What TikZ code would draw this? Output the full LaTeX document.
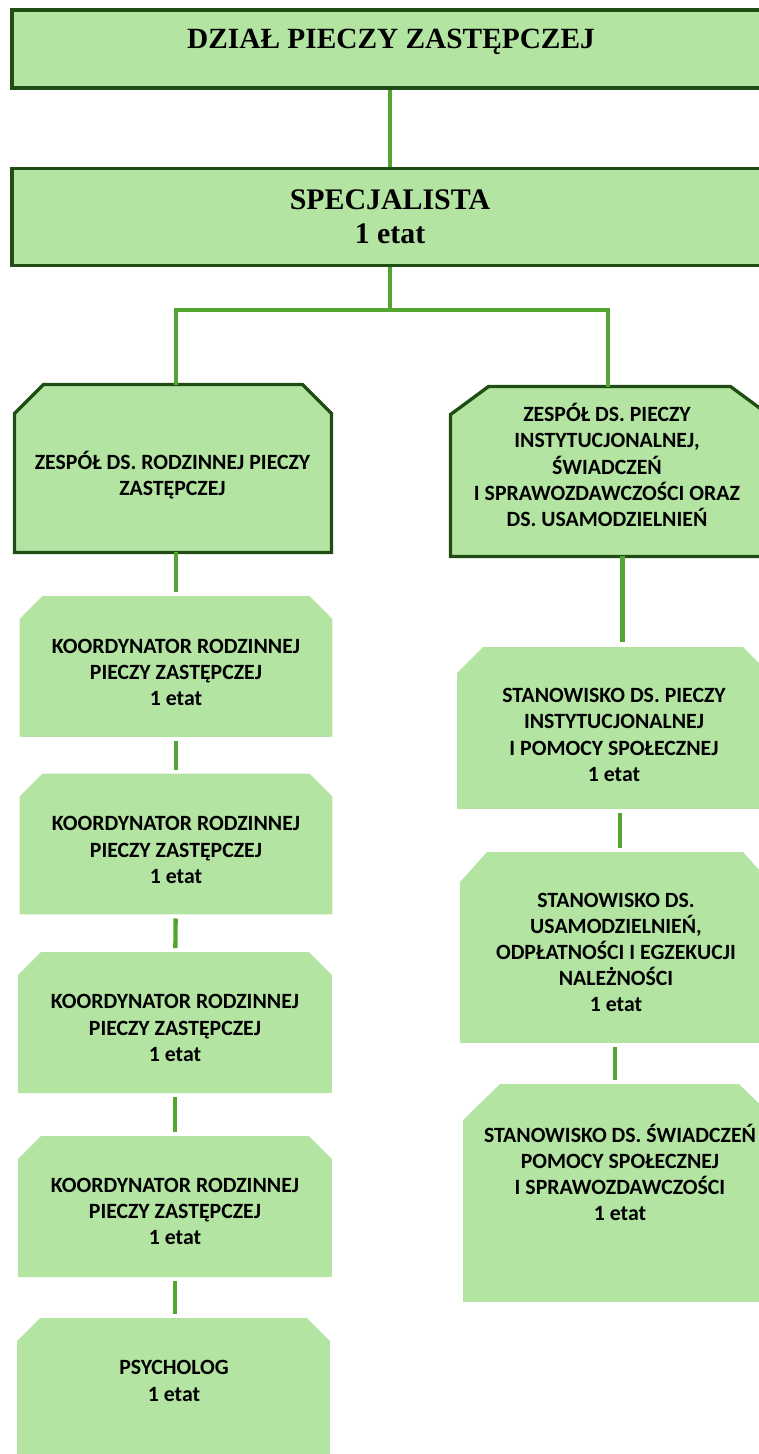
\documentclass[tikz,border=0pt]{standalone}
\usepackage{fontspec}
\setmainfont{Carlito}
\newfontfamily\headfont{Liberation Serif}
\usetikzlibrary{calc,backgrounds}

\definecolor{boxfill}{HTML}{B4E4A2}
\definecolor{boxline}{HTML}{1F4D14}
\definecolor{linkgreen}{HTML}{52A62F}

\tikzset{
	headbox/.style={draw=boxline, line width=1.9pt, fill=boxfill, inner sep=0pt,
		minimum width=15.12cm, align=center,
		font=\headfont\fontsize{17}{19.5}\selectfont\bfseries},
	headtext/.style={inner sep=0pt, align=center,
		font=\headfont\fontsize{16.7}{19.5}\selectfont\bfseries},
	cutnode/.style={rectangle, inner sep=0pt, outer sep=0pt},
	boxtext/.style={inner sep=0pt, align=center, font=\fontsize{12.4}{14.9}\selectfont\bfseries},
	teamline/.style={draw=boxline, line width=1.9pt, fill=boxfill},
	postfill/.style={fill=boxfill},
	link/.style={draw=linkgreen, line width=2.5pt},
	gaplink/.style={link, shorten <=0.08cm, shorten >=0.08cm}
}

% outline with the two upper corners cut: [style] node, cut in x, cut in y
\newcommand{\cutbox}[4][postfill]{%
	\begin{scope}[on background layer]
		\path[#1] (#2.south west) -- ($(#2.north west)+(0,#4)$) -- ($(#2.north west)+(#3,0)$)
			-- ($(#2.north east)+(-#3,0)$) -- ($(#2.north east)+(0,#4)$) -- (#2.south east) -- cycle;
	\end{scope}}

\begin{document}
\begin{tikzpicture}[x=0.02cm, y=-0.02cm]
	\useasboundingbox (0,0) rectangle (759,1454);
	\clip (0,0) rectangle (759,1454);
	
	% top of the chart
	\node[headbox, minimum height=1.56cm] (dzial) at (390,49) {};
	\node[headtext] (dzialt) at (391,42) {DZIAŁ PIECZY ZASTĘPCZEJ};
	\node[headbox, minimum height=1.94cm] (spec) at (390,217) {SPECJALISTA\\1 etat};
	
	% teams
	\node[cutnode, minimum width=6.34cm, minimum height=3.36cm] (lt) at (173,468.5) {};
	\cutbox[teamline]{lt}{29}{29}
	\node[boxtext] (ltt) at (172.5,475) {ZESPÓŁ DS. RODZINNEJ PIECZY\\ZASTĘPCZEJ};
	\node[cutnode, minimum width=6.36cm, minimum height=3.4cm] (rt) at (609.5,471.5) {};
	\cutbox[teamline]{rt}{38}{28}
	\node[boxtext] (rtt) at (607,465)
		{ZESPÓŁ DS. PIECZY\\INSTYTUCJONALNEJ,\\ŚWIADCZEŃ\\I SPRAWOZDAWCZOŚCI ORAZ\\DS. USAMODZIELNIEŃ};
	
	% left column
	\node[cutnode, minimum width=6.26cm, minimum height=2.82cm] (k1) at (176,666.5) {};
	\cutbox{k1}{23}{23}
	\node[boxtext] (k1t) at (176,672.5) {KOORDYNATOR RODZINNEJ\\PIECZY ZASTĘPCZEJ\\1 etat};
	\node[cutnode, minimum width=6.26cm, minimum height=2.82cm] (k2) at (176,844) {};
	\cutbox{k2}{23}{23}
	\node[boxtext] (k2t) at (176,850) {KOORDYNATOR RODZINNEJ\\PIECZY ZASTĘPCZEJ\\1 etat};
	\node[cutnode, minimum width=6.28cm, minimum height=2.82cm] (k3) at (175,1022.5) {};
	\cutbox{k3}{23}{23}
	\node[boxtext] (k3t) at (175,1028) {KOORDYNATOR RODZINNEJ\\PIECZY ZASTĘPCZEJ\\1 etat};
	\node[cutnode, minimum width=6.28cm, minimum height=2.82cm] (k4) at (175,1206.5) {};
	\cutbox{k4}{23}{23}
	\node[boxtext] (k4t) at (175,1211.5) {KOORDYNATOR RODZINNEJ\\PIECZY ZASTĘPCZEJ\\1 etat};
	\node[cutnode, minimum width=6.26cm, minimum height=2.84cm] (psy) at (173.5,1389) {};
	\cutbox{psy}{23}{23}
	\node[boxtext] (psyt) at (174,1381) {PSYCHOLOG\\1 etat};
	
	% right column
	\node[cutnode, minimum width=6.24cm, minimum height=3.24cm] (s1) at (613,728) {};
	\cutbox{s1}{26}{26}
	\node[boxtext] (s1t) at (614,735) {STANOWISKO DS. PIECZY\\INSTYTUCJONALNEJ\\I POMOCY SPOŁECZNEJ\\1 etat};
	\node[cutnode, minimum width=6.2cm, minimum height=3.82cm] (s2) at (615,947.5) {};
	\cutbox{s2}{27}{30}
	\node[boxtext] (s2t) at (616,952.5) {STANOWISKO DS.\\USAMODZIELNIEŃ,\\ODPŁATNOŚCI I EGZEKUCJI\\NALEŻNOŚCI\\1 etat};
	\node[cutnode, minimum width=6.26cm, minimum height=4.36cm] (s3) at (619.5,1193) {};
	\cutbox{s3}{37}{36}
	\node[boxtext] (s3t) at (620,1172.5) {STANOWISKO DS. ŚWIADCZEŃ\\POMOCY SPOŁECZNEJ\\I SPRAWOZDAWCZOŚCI\\1 etat};
	
	% connectors
	\draw[link] (dzial) -- (spec);
	\draw[link] (spec.south) -- ++(0,43) coordinate (fork);
	\draw[link] ([xshift=0.06cm]lt.north) |- (fork) -| ([xshift=-0.03cm]rt.north);
	\draw[link, shorten >=0.08cm] (lt.south -| k1.north) -- (k1.north);
	\draw[gaplink] (k1) -- (k2);
	\draw[gaplink] (k2) -- (k3);
	\draw[gaplink] (k3) -- (k4);
	\draw[gaplink] (k4) -- (k4 |- psy.north);
	\draw[link, shorten >=0.1cm] ([xshift=0.26cm]rt.south) -- ([xshift=0.26cm]rt.south |- s1.north);
	\draw[gaplink] ([xshift=0.14cm]s1.south) -- ([xshift=0.14cm]s1.south |- s2.north);
	\draw[gaplink] (s2) -- (s2 |- s3.north);
\end{tikzpicture}
\end{document}
